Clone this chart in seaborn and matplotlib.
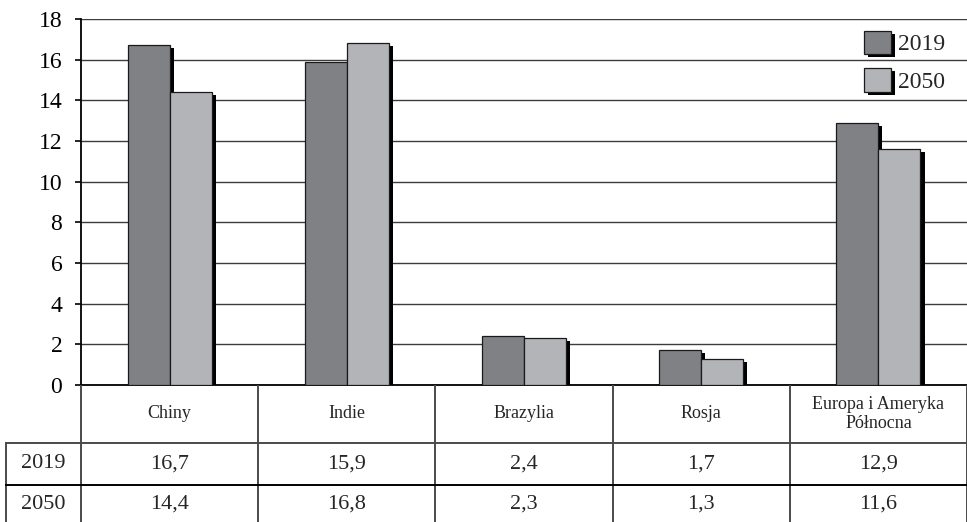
import matplotlib
matplotlib.use("Agg")
import matplotlib.pyplot as plt
import matplotlib.patheffects as pe
from matplotlib.patches import Patch
import seaborn as sns
import pandas as pd

# Data
categories = ["Chiny", "Indie", "Brazylia", "Rosja", "Europa i Ameryka\nPółnocna"]
years = ["2019", "2050"]
values_2019 = [16.7, 15.9, 2.4, 1.7, 12.9]
values_2050 = [14.4, 16.8, 2.3, 1.3, 11.6]
y_ticks = [0, 2, 4, 6, 8, 10, 12, 14, 16, 18]

colors = {"2019": "#808185", "2050": "#b2b4b7"}

df = pd.DataFrame({
    "kraj": categories * 2,
    "rok": [years[0]] * len(categories) + [years[1]] * len(categories),
    "wartosc": values_2019 + values_2050,
})

sns.set_theme(style="white")
plt.rcParams["font.family"] = ["Liberation Serif", "DejaVu Serif"]

W, H = 967, 522
fig = plt.figure(figsize=(W / 100, H / 100), dpi=100)

# Main bar axes (pixel layout converted to figure fractions)
left_px, right_px, top_px, bottom_px = 81, 967, 19, 385
ax = fig.add_axes([left_px / W, 1 - bottom_px / H,
                   (right_px - left_px) / W, (bottom_px - top_px) / H])

shadow = [pe.SimplePatchShadow(offset=(2.9, -2.2), shadow_rgbFace="black", alpha=1.0),
          pe.Normal()]

sns.barplot(data=df, x="kraj", y="wartosc", hue="rok", order=categories,
            hue_order=years, palette=colors, width=0.475, saturation=1,
            edgecolor="#1a1a1a", linewidth=0.9, legend=False, ax=ax, zorder=3)
for p in ax.patches:
    p.set_path_effects(shadow)

ax.set_xlim(-0.5, len(categories) - 0.5)
ax.set_ylim(0, 18)
ax.set_yticks(y_ticks)
ax.set_yticklabels([str(t) for t in y_ticks], fontsize=17)
ax.set_xticks([])
ax.set_xlabel("")
ax.set_ylabel("")
ax.yaxis.grid(True, color="#3c3c3c", linewidth=1.0, zorder=0)
ax.set_axisbelow(True)
for s in ["top", "right"]:
    ax.spines[s].set_visible(False)
for s in ["left", "bottom"]:
    ax.spines[s].set_color("black")
    ax.spines[s].set_linewidth(1.3)
ax.tick_params(axis="y", direction="out", length=4.5, width=1.2, color="black",
               pad=9, left=True, labelcolor="black")

# Legend with shadowed swatches
handles = [Patch(facecolor=colors[y], edgecolor="#1a1a1a", linewidth=0.9,
                 path_effects=shadow, label=y) for y in years]
ax.legend(handles=handles, loc="upper right",
          bbox_to_anchor=(1.0 - 5 / (right_px - left_px), 1.0 + 5 / (bottom_px - top_px)),
          frameon=False, fontsize=17, handlelength=1.15, handleheight=1.15,
          handletextpad=0.32, labelspacing=0.55, borderaxespad=0.3)

# Data table below the plot
tab_left_px = 5
cat_px = (right_px - left_px) / len(categories)
x0 = -0.5 - (left_px - tab_left_px) / cat_px
tax = fig.add_axes([tab_left_px / W, 0, (W - tab_left_px) / W, (H - bottom_px) / H])
tax.set_xlim(x0, len(categories) - 0.5)
tax.set_ylim(H, bottom_px)
tax.axis("off")

line_kw = dict(color="#4a4a4a", linewidth=1.4, solid_capstyle="butt")
row1_y, row2_y = 443, 485
for i in range(len(categories) + 1):
    tax.plot([i - 0.5, i - 0.5], [bottom_px, H], **line_kw)
tax.plot([x0 + 0.004, x0 + 0.004], [row1_y, H], **line_kw)
tax.plot([x0, len(categories) - 0.5], [row1_y, row1_y], **line_kw)
tax.plot([x0, len(categories) - 0.5], [row2_y, row2_y], color="black", linewidth=1.4)

for i, c in enumerate(categories):
    tax.text(i, (bottom_px + row1_y) / 2, c, ha="center", va="center",
             fontsize=13, linespacing=1.1)
    tax.text(i, (row1_y + row2_y) / 2, f"{values_2019[i]:.1f}".replace(".", ","),
             ha="center", va="center", fontsize=16)
    tax.text(i, (row2_y + H) / 2 + 1, f"{values_2050[i]:.1f}".replace(".", ","),
             ha="center", va="center", fontsize=16)

label_x = (x0 - 0.5) / 2
tax.text(label_x, (row1_y + row2_y) / 2, years[0], ha="center", va="center", fontsize=16)
tax.text(label_x, (row2_y + H) / 2 + 1, years[1], ha="center", va="center", fontsize=16)

fig.savefig("out.png", dpi=100)
